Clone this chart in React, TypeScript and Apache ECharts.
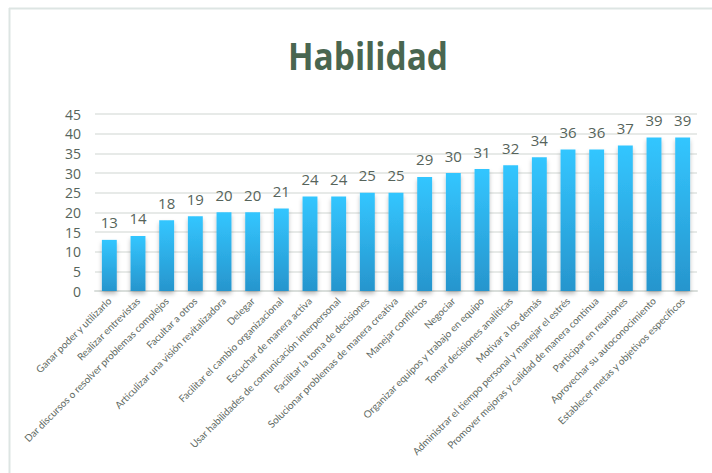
import React, { useEffect, useRef } from "react";
import * as echarts from "echarts";

const titleText = "Habilidad";

const categories = [
  "Ganar poder y utilizarlo",
  "Realizar entrevistas",
  "Dar discursos o resolver problemas complejos",
  "Facultar a otros",
  "Articulizar una visión revitalizadora",
  "Delegar",
  "Facilitar el cambio organizacional",
  "Escuchar de manera activa",
  "Usar habilidades de comunicación interpersonal",
  "Facilitar la toma de decisiones",
  "Solucionar problemas de manera creativa",
  "Manejar conflictos",
  "Negociar",
  "Organizar equipos y trabajo en equipo",
  "Tomar decisiones analíticas",
  "Motivar a los demás",
  "Administrar el tiempo personal y manejar el estrés",
  "Promover mejoras y calidad de manera continua",
  "Participar en reuniones",
  "Aprovechar su autoconocimiento",
  "Establecer metas y objetivos específicos",
];

const values = [13, 14, 18, 19, 20, 20, 21, 24, 24, 25, 25, 29, 30, 31, 32, 34, 36, 36, 37, 39, 39];

const yMin = 0;
const yMax = 45;
const yStep = 5;

const textColor = "#56645b";

export default function App() {
  const ref = useRef<HTMLDivElement>(null);

  useEffect(() => {
    if (!ref.current) return;
    const chart = echarts.init(ref.current, undefined, { renderer: "svg" });
    chart.setOption({
      animation: false,
      backgroundColor: "#ffffff",
      graphic: [
        {
          type: "line",
          shape: { x1: 9.5, y1: 8, x2: 9.5, y2: 473 },
          style: { stroke: "#dde5e3", lineWidth: 2 },
        },
        {
          type: "line",
          shape: { x1: 9, y1: 8.5, x2: 712, y2: 8.5 },
          style: { stroke: "#dde5e3", lineWidth: 2 },
        },
        {
          // condensed bold heading
          type: "text",
          x: 368,
          y: 55,
          scaleX: 0.88,
          style: {
            text: titleText,
            align: "center",
            verticalAlign: "middle",
            font: "bold 38px 'Open Sans'",
            fill: "#496650",
          },
        },
      ],
      grid: { left: 95, right: 15, top: 114, bottom: 182, containLabel: false },
      xAxis: {
        type: "category",
        data: categories,
        axisLine: { show: true, lineStyle: { color: "#d9dedb", width: 2 } },
        axisTick: { show: false },
        axisLabel: {
          interval: 0,
          rotate: 45,
          margin: 8,
          fontFamily: "Lato",
          fontSize: 10,
          color: "#5f6b64",
        },
      },
      yAxis: {
        type: "value",
        min: yMin,
        max: yMax,
        interval: yStep,
        axisLine: { show: false },
        axisTick: { show: false },
        splitLine: { lineStyle: { color: "#dfe3e1", width: 1.5 } },
        axisLabel: {
          fontFamily: "Open Sans",
          fontSize: 14,
          color: textColor,
          margin: 14,
        },
      },
      series: [
        {
          type: "bar",
          data: values,
          barWidth: "52%",
          itemStyle: {
            color: new echarts.graphic.LinearGradient(0, 0, 0, 1, [
              { offset: 0, color: "#33c6ff" },
              { offset: 1, color: "#2795cd" },
            ]),
            shadowColor: "rgba(0,0,0,0.25)",
            shadowBlur: 4,
            shadowOffsetY: 3,
          },
          label: {
            show: true,
            position: "top",
            distance: 10,
            fontFamily: "Open Sans",
            fontSize: 15,
            color: textColor,
          },
        },
      ],
    });
    return () => chart.dispose();
  }, []);

  return (
    <div
      ref={ref}
      style={{ position: "fixed", left: 0, top: 0, width: 712, height: 473 }}
    />
  );
}
